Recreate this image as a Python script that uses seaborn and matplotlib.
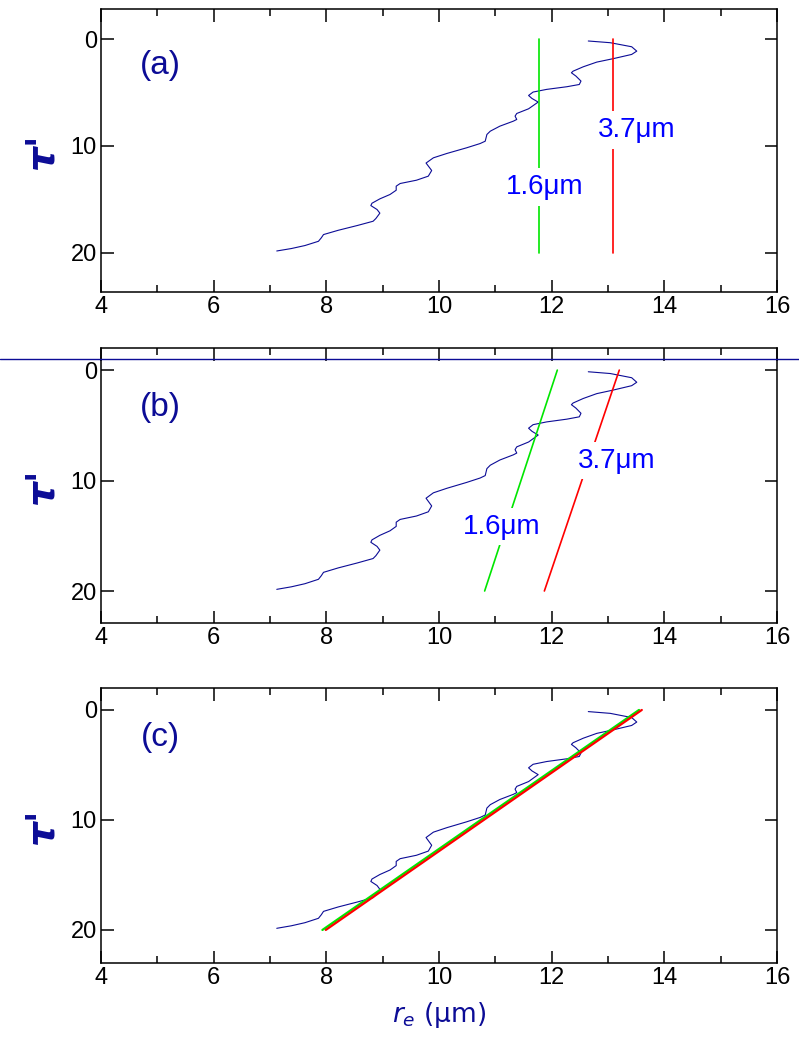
import numpy as np
import pandas as pd
import seaborn as sns
import matplotlib.pyplot as plt
from matplotlib.lines import Line2D

## Profile of effective radius vs optical depth
re_profile = [12.65, 13.04, 13.42, 13.51, 13.42, 13.09, 12.80, 12.56, 12.38, 12.35,
              12.43, 12.52, 12.49, 12.27, 11.91, 11.67, 11.59, 11.65, 11.76, 11.59,
              11.38, 11.35, 11.38, 11.32, 11.08, 10.91, 10.85, 10.82, 10.73, 10.49,
              10.14, 9.90, 9.77, 9.87, 9.81, 9.60, 9.31, 9.24, 9.24, 9.13,
              8.95, 8.81, 8.79, 8.90, 8.95, 8.88, 8.83, 8.55, 8.21, 7.95,
              7.91, 7.86, 7.62, 7.38, 7.12]
tau_profile = [0.15, 0.31, 0.69, 1.10, 1.41, 1.81, 2.13, 2.57, 2.98, 3.13,
               3.44, 3.91, 4.23, 4.44, 4.69, 4.94, 5.26, 5.54, 5.88, 6.51,
               6.95, 7.20, 7.51, 7.67, 8.14, 8.61, 8.92, 9.55, 9.77, 10.17,
               10.70, 11.11, 11.60, 12.30, 12.83, 13.21, 13.52, 13.77, 14.15, 14.55,
               14.96, 15.37, 15.59, 15.96, 16.30, 16.80, 17.06, 17.46, 17.91, 18.31,
               18.62, 18.94, 19.34, 19.62, 19.85]

# retrieved lines: (re at tau=0, re at tau=20)
tau_ends = [0, 20]
a_16 = [11.78, 11.78]
a_37 = [13.08, 13.08]
b_16 = [12.10, 10.81]
b_37 = [13.20, 11.87]
c_16 = [13.55, 7.93]
c_37 = [13.60, 7.99]

panel_names = ['(a)', '(b)', '(c)']
xticks = [4, 6, 8, 10, 12, 14, 16]
yticks = [0, 10, 20]

df = pd.DataFrame({'re': re_profile, 'tau': tau_profile})

sns.set_style('white')
plt.rcParams['font.family'] = ['Liberation Sans', 'DejaVu Sans']

navy = '#0c0c96'
green = '#00e600'
red = '#ff0000'
blue = '#0000ff'

fig = plt.figure(figsize=(7.99, 10.37), dpi=100)

# axes rectangles in figure fraction
rects = [[0.1264, 0.7184, 0.8461, 0.2729],
         [0.1264, 0.3992, 0.8461, 0.2652],
         [0.1264, 0.0714, 0.8461, 0.2652]]
ylims = [(23.7, -2.85), (22.9, -2.0), (23.0, -2.0)]
green_lines = [a_16, b_16, c_16]
red_lines = [a_37, b_37, c_37]
lab_y = [0.80, 0.785, 0.82]

box = dict(facecolor='white', edgecolor='none', pad=4)

for i in range(3):
    ax = fig.add_axes(rects[i])
    sns.lineplot(data=df, x='re', y='tau', sort=False, estimator=None,
                 color=navy, lw=0.8, ax=ax)
    lw = 1.6 if i == 2 else 1.2
    sns.lineplot(x=green_lines[i], y=tau_ends, sort=False, estimator=None,
                 color=green, lw=lw, ax=ax)
    sns.lineplot(x=red_lines[i], y=tau_ends, sort=False, estimator=None,
                 color=red, lw=lw, ax=ax)

    ax.set_xlim(4, 16)
    ax.set_ylim(*ylims[i])
    ax.set_xticks(xticks)
    ax.set_xticks([5, 7, 9, 11, 13, 15], minor=True)
    ax.set_yticks(yticks)
    ax.tick_params(which='both', direction='in', top=True, right=True,
                   bottom=True, left=True, width=1.1, colors='black',
                   labelsize=17, pad=3)
    ax.tick_params(which='major', length=9)
    ax.tick_params(which='minor', length=5)
    for s in ax.spines.values():
        s.set_linewidth(1.1)
        s.set_color('black')
    ax.set_xlabel('')
    ax.set_ylabel("τ'", color=navy, fontsize=28, fontweight='bold',
                  style='italic', family='DejaVu Sans', rotation=90,
                  va='center')
    ax.yaxis.set_label_coords(-0.088, 0.5)

    ax.text(0.088, lab_y[i], panel_names[i], transform=ax.transAxes,
            color=navy, fontsize=24, ha='center', va='center')

    if i == 0:
        ax.text(11.88, 13.85, '1.6μm', color=blue, fontsize=20,
                ha='center', va='center', bbox=box, zorder=5)
        ax.text(13.51, 8.5, '3.7μm', color=blue, fontsize=20,
                ha='center', va='center', bbox=box, zorder=5)
    elif i == 1:
        ax.text(11.12, 14.2, '1.6μm', color=blue, fontsize=20,
                ha='center', va='center', bbox=box, zorder=5)
        ax.text(13.16, 8.2, '3.7μm', color=blue, fontsize=20,
                ha='center', va='center', bbox=box, zorder=5)
    else:
        ax.text(0.5, -0.19, r'$r_e$ (μm)', transform=ax.transAxes,
                color=navy, fontsize=19, ha='center', va='center',
                family='DejaVu Sans')

# stray horizontal rule across the figure
fig.add_artist(Line2D([0, 1], [0.6538, 0.6538], transform=fig.transFigure,
                      color=navy, lw=1.0))

fig.savefig('out.png', dpi=100)
